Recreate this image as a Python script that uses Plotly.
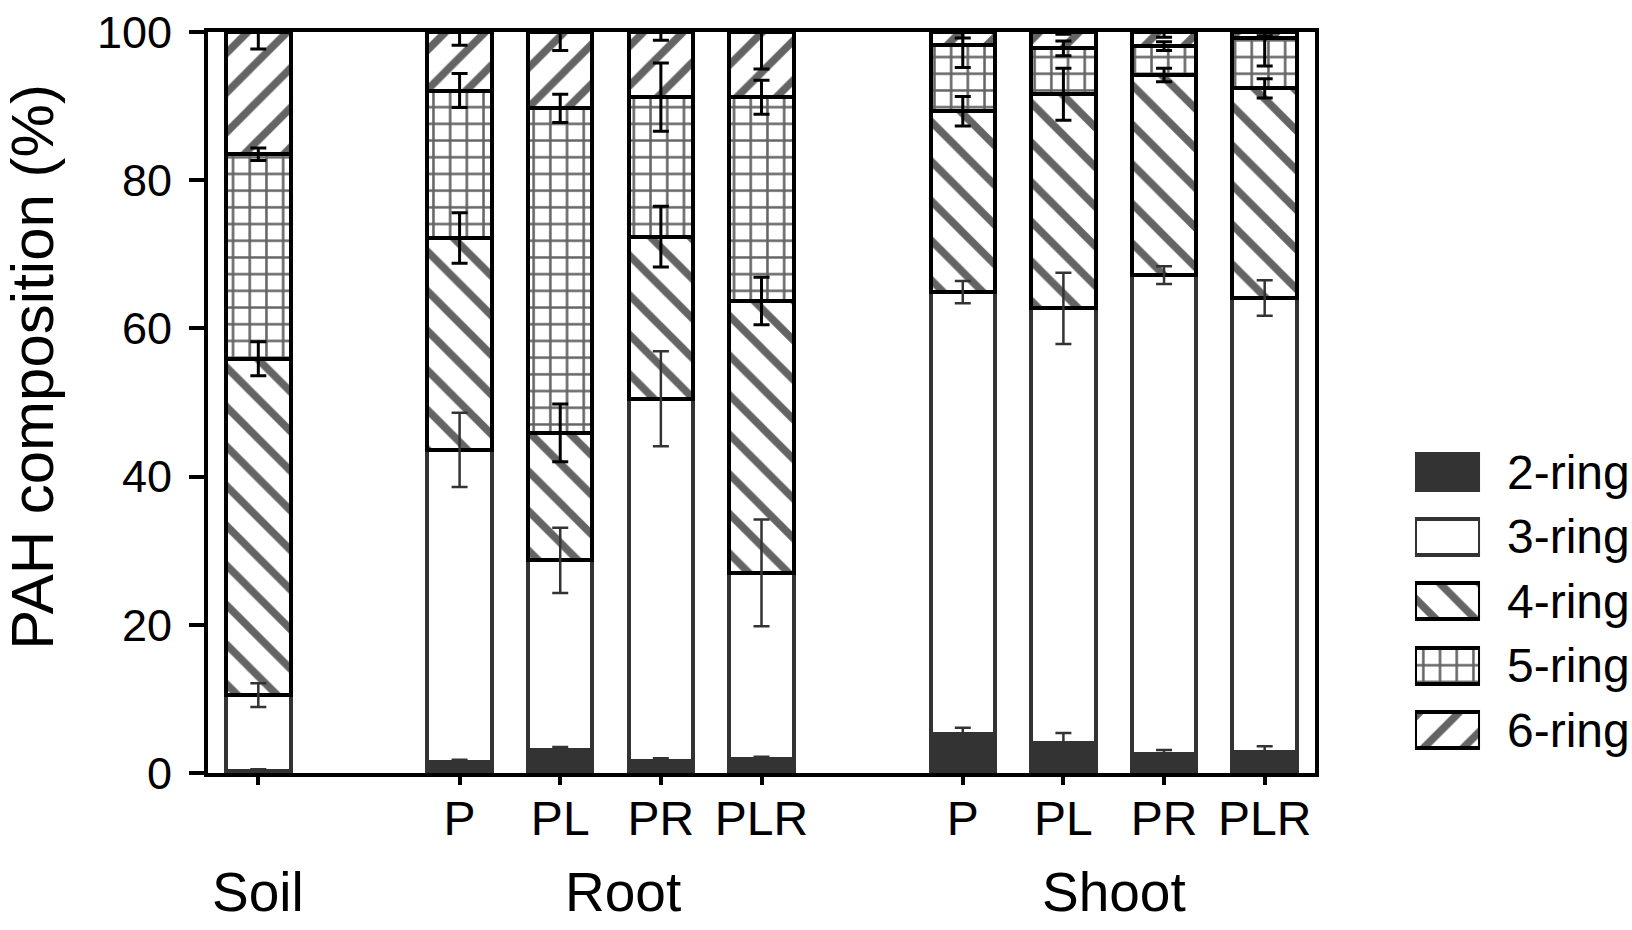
import numpy as np
import plotly.graph_objects as go

# ---- data ----
x_pos = [0, 2, 3, 4, 5, 7, 8, 9, 10]
tick_labels = ["", "P", "PL", "PR", "PLR", "P", "PL", "PR", "PLR"]
group_labels = ["Soil", "Root", "Shoot"]
group_pos = [0, 3.5, 8.5]
ring_names = ["2-ring", "3-ring", "4-ring", "5-ring", "6-ring"]

ring2 = [0.3, 1.5, 3.1, 1.6, 1.9, 5.3, 4.0, 2.6, 2.8]
ring3 = [10.2, 42.1, 25.6, 48.9, 25.1, 59.6, 58.7, 64.6, 61.3]
ring4 = [45.4, 28.6, 17.2, 21.9, 36.7, 24.4, 28.9, 27.0, 28.3]
ring5 = [27.6, 19.9, 43.8, 18.8, 27.5, 8.9, 6.2, 3.9, 6.8]
ring6 = [16.5, 7.9, 10.3, 8.8, 8.8, 1.8, 2.2, 1.9, 0.8]

err2 = [0.2, 0.3, 0.4, 0.4, 0.3, 0.8, 1.4, 0.5, 0.8]
err3 = [1.6, 5.0, 4.4, 6.4, 7.2, 1.5, 4.8, 1.2, 2.4]
err4 = [2.3, 3.4, 3.9, 4.1, 3.2, 2.0, 3.5, 0.9, 1.3]
err5 = [0.85, 2.3, 1.9, 4.6, 2.3, 3.0, 1.0, 0.6, 3.8]
err6 = [2.3, 1.8, 2.5, 1.1, 5.0, 0.8, 0.3, 0.7, 0.5]

# ---- styles ----
segs = [ring2, ring3, ring4, ring5, ring6]
errs = [err2, err3, err4, err5, err6]
fills = ["#333333", "white", "white", "white", "white"]
pshapes = ["", "", "\\", "+", "/"]
psizes = [10, 10, 28, 16.7, 28]
psolid = [0.3, 0.3, 0.27, 0.28, 0.27]
outline = ["#333333", "#333333", "#000000", "#000000", "#000000"]
errcol = ["#333333", "#333333", "#000000", "#000000", "#000000"]
errthick = [2.5, 2.5, 3, 3, 3]
hatch = "#646464"
FONT = "Arial, Liberation Sans, Helvetica, sans-serif"


def pattern(i):
    return dict(shape=pshapes[i], fgcolor=hatch, bgcolor=fills[i], fgopacity=1,
                size=psizes[i], solidity=psolid[i])


fig = go.Figure()

for i in range(5):
    fig.add_trace(go.Bar(
        x=x_pos, y=segs[i], width=0.64, name=ring_names[i],
        marker=dict(color=fills[i], line=dict(color=outline[i], width=4), pattern=pattern(i)),
        showlegend=False, hoverinfo="skip"))

tops = np.cumsum(np.array(segs), axis=0)
for i in range(5):
    fig.add_trace(go.Scatter(
        x=x_pos, y=tops[i], mode="markers", marker=dict(size=2, opacity=0),
        error_y=dict(type="data", array=errs[i], color=errcol[i],
                     thickness=errthick[i], width=8),
        showlegend=False, hoverinfo="skip"))

# legend swatches (drawn as small bars in a side panel)
for i in range(5):
    fig.add_trace(go.Bar(
        x=[1], y=[ring_names[i]], orientation="h", width=0.56,
        xaxis="x2", yaxis="y2",
        marker=dict(color=fills[i], line=dict(color=outline[i], width=4), pattern=pattern(i)),
        showlegend=False, hoverinfo="skip"))

for lab, gx in zip(group_labels, group_pos):
    fig.add_annotation(x=gx, y=-0.1606, xref="x", yref="paper", text=lab,
                       showarrow=False, xanchor="center", yanchor="middle",
                       xshift=12 if lab == "Root" else 0,
                       font=dict(size=55, color="black", family=FONT))

fig.add_annotation(x=-0.1265, y=0.548, xref="paper", yref="paper",
                   text="PAH composition (%)", textangle=-90, showarrow=False,
                   xanchor="center", yanchor="middle", borderpad=0,
                   font=dict(size=60, color="black", family=FONT))

fig.update_layout(
    width=1632, height=930,
    margin=dict(l=208, r=40, t=32, b=157, autoexpand=False),
    paper_bgcolor="white", plot_bgcolor="white",
    barmode="stack", bargap=0,
    font=dict(family=FONT, color="black"),
    xaxis=dict(domain=[0, 0.79986], range=[-0.5, 10.5], tickvals=x_pos, ticktext=tick_labels,
               ticks="outside", ticklen=8, tickwidth=4, tickcolor="black",
               tickfont=dict(size=48, color="black", family=FONT), ticklabelstandoff=-8,
               showline=True, linewidth=4, linecolor="black", mirror=True,
               showgrid=False, zeroline=False, automargin=False),
    yaxis=dict(range=[0, 100], tickvals=[0, 20, 40, 60, 80, 100],
               ticks="outside", ticklen=15, tickwidth=4, tickcolor="black",
               tickfont=dict(size=45, color="black", family=FONT), ticklabelstandoff=8,
               showline=True, linewidth=4, linecolor="black", mirror=True,
               showgrid=False, zeroline=False, automargin=False, ticklabeloverflow="allow"),
    xaxis2=dict(domain=[0.8721, 0.9191], range=[0, 1], visible=False, anchor="y2",
                automargin=False),
    yaxis2=dict(domain=[0.0145, 0.4497], anchor="x2", type="category",
                categoryorder="array", categoryarray=ring_names, range=[4.5, -0.5],
                side="right", showline=False, ticks="", showgrid=False, zeroline=False,
                automargin=False, ticklabeloverflow="allow",
                tickfont=dict(size=48, color="black", family=FONT), ticklabelstandoff=26),
)

fig.write_html(
    "out.html",
    config={"displayModeBar": False},
    post_script="document.documentElement.style.overflow='hidden';"
                "document.body.style.margin='0';document.body.style.overflow='hidden';",
)
